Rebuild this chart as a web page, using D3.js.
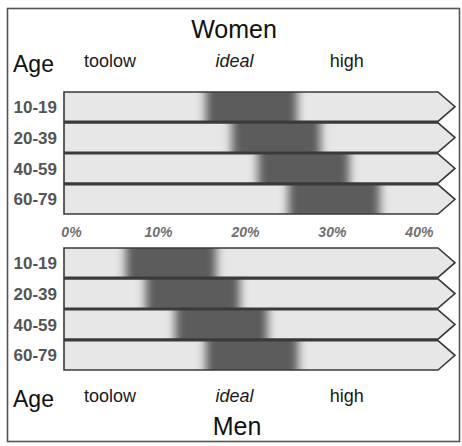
<!DOCTYPE html>
<html><head><meta charset="utf-8">
<script src="https://cdn.jsdelivr.net/npm/d3@7"></script>
<style>html,body{margin:0;padding:0;background:#fff}svg{display:block}</style>
</head><body>
<svg id="c" width="462" height="446"></svg>
<script>
// ---- data ----
const ageGroups = ["10-19", "20-39", "40-59", "60-79"];
const womenIdealLow  = [15.5, 18.5, 21.5, 25];
const womenIdealHigh = [26, 28.7, 32, 35.5];
const menIdealLow    = [6.3, 8.6, 12, 15.5];
const menIdealHigh   = [16.7, 19.4, 22.6, 26.1];
const tickValues = [0, 10, 20, 30, 40];
const zoneLabels = ["toolow", "ideal", "high"];
const zoneCenters = [4.5, 18.8, 31.7]; // in % units along the axis
const trackDomain = [-0.8, 42.2];

const svg = d3.select("#c");
const font = "'Liberation Sans', Arial, Helvetica, sans-serif";

const x = d3.scaleLinear().domain(trackDomain).range([64, 438]);
const tip = 17;

// frame
svg.append("rect").attr("x", 7.5).attr("y", 8.5).attr("width", 452).attr("height", 433)
  .attr("fill", "none").attr("stroke", "#555").attr("stroke-width", 1.6);

const defs = svg.append("defs");
defs.append("filter").attr("id", "blurx")
  .attr("filterUnits", "userSpaceOnUse").attr("x", 0).attr("y", 0).attr("width", 462).attr("height", 446)
  .append("feGaussianBlur").attr("stdDeviation", "4.6 0");

function arrowPath(y0, h) {
  const x0 = x(trackDomain[0]), x1 = x(trackDomain[1]);
  return `M${x0},${y0}H${x1}L${x1 + tip},${y0 + h / 2}L${x1},${y0 + h}H${x0}Z`;
}

function panel(id, range, lows, highs) {
  const y = d3.scaleBand().domain(ageGroups).range(range).paddingInner(0.05);
  const g = svg.append("g");
  ageGroups.forEach((age, i) => {
    const y0 = y(age), h = y.bandwidth();
    const cid = `clip-${id}-${i}`;
    defs.append("clipPath").attr("id", cid).append("path").attr("d", arrowPath(y0, h));
    g.append("path").attr("d", arrowPath(y0, h)).attr("fill", "#e7e7e7");
    g.append("g").attr("clip-path", `url(#${cid})`)
      .append("rect")
      .attr("x", x(lows[i])).attr("width", x(highs[i]) - x(lows[i]))
      .attr("y", y0).attr("height", h)
      .attr("fill", "#5b5b5b").attr("filter", "url(#blurx)");
    g.append("path").attr("d", arrowPath(y0, h)).attr("fill", "none")
      .attr("stroke", "#3a3a3a").attr("stroke-width", 1.6).attr("stroke-linejoin", "miter");
    g.append("text").attr("x", 57).attr("y", y0 + h / 2).attr("dy", "0.36em")
      .attr("text-anchor", "end").attr("font-family", font).attr("font-weight", "bold")
      .attr("font-size", 17).attr("fill", "#555").text(age);
  });
}

panel("w", [92, 214], womenIdealLow, womenIdealHigh);
panel("m", [248, 370], menIdealLow, menIdealHigh);

// axis tick labels
const axis = d3.axisBottom(x).tickValues(tickValues).tickFormat(d => d + "%").tickSize(0).tickPadding(0);
const ax = svg.append("g").attr("transform", "translate(0,226)").call(axis);
ax.select(".domain").remove();
ax.selectAll("text").attr("font-family", font).attr("font-size", 14).attr("font-weight", "bold")
  .attr("font-style", "italic").attr("fill", "#707070").attr("dy", "0.78em");

// headings
function heading(text, cx, by) {
  svg.append("text").attr("x", cx).attr("y", by).attr("text-anchor", "middle")
    .attr("font-family", font).attr("font-size", 25).attr("fill", "#111").text(text);
}
heading("Women", 234, 38);
heading("Men", 237, 435);

function zoneRow(by, ageBy) {
  svg.append("text").attr("x", 13).attr("y", ageBy).attr("font-family", font)
    .attr("font-size", 23).attr("fill", "#111").text("Age");
  zoneLabels.forEach((t, i) => {
    svg.append("text").attr("x", x(zoneCenters[i])).attr("y", by).attr("text-anchor", "middle")
      .attr("font-family", font).attr("font-size", 18).attr("fill", "#1a1a1a")
      .attr("font-style", i === 1 ? "italic" : "normal").text(t);
  });
}
zoneRow(67, 72);
zoneRow(402, 407);
</script>
</body></html>
